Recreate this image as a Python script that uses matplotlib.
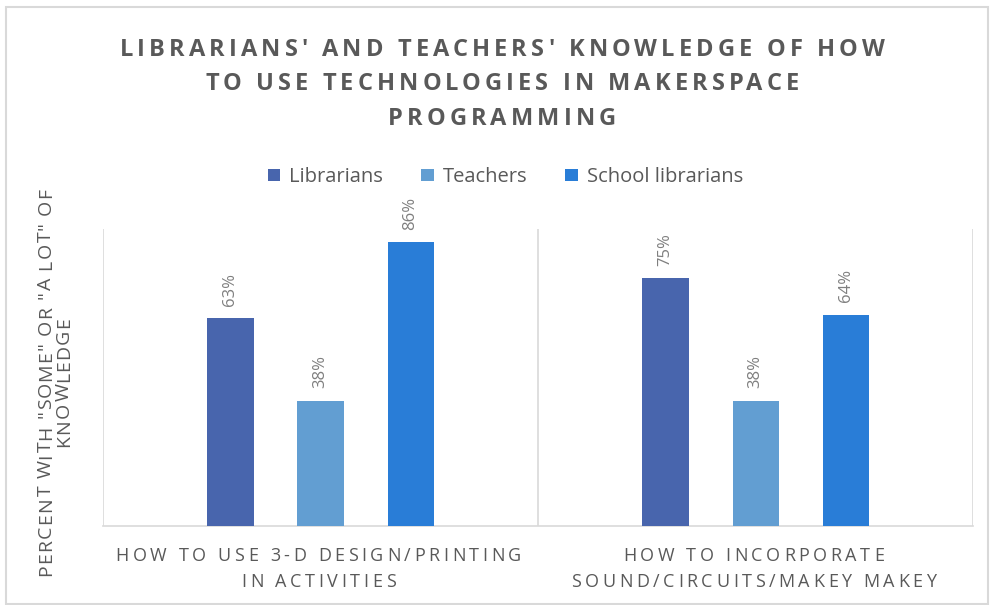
import matplotlib
matplotlib.use("Agg")
import matplotlib.pyplot as plt
import numpy as np
from matplotlib.patches import Rectangle
from matplotlib.font_manager import FontProperties

categories = ["HOW TO USE 3-D DESIGN/PRINTING\nIN ACTIVITIES",
              "HOW TO INCORPORATE\nSOUND/CIRCUITS/MAKEY MAKEY"]
series_names = ["Librarians", "Teachers", "School librarians"]
librarians = [0.63, 0.75]
teachers = [0.38, 0.38]
school_librarians = [0.86, 0.64]
colors = ["#4865AD", "#629ED2", "#297DD7"]

title = "LIBRARIANS' AND TEACHERS' KNOWLEDGE OF HOW\nTO USE TECHNOLOGIES IN MAKERSPACE\nPROGRAMMING"
ylabel = "PERCENT WITH \"SOME\" OR \"A LOT\" OF\nKNOWLEDGE"

FONT = "Open Sans"
GRAY = "#595959"
W_PX, H_PX = 990, 605

fig = plt.figure(figsize=(9.9, 6.05), dpi=100)
fig.patch.set_facecolor("white")
renderer = fig.canvas.get_renderer()
fig.add_artist(Rectangle((0.006, 0.002), 0.992, 0.986, transform=fig.transFigure,
                         fill=False, edgecolor="#D9D9D9", linewidth=1.5))


def tracked_line(s, cx, cy, size, tracking, weight="normal", color=GRAY, rotation=0):
    """Draw one line of letter-spaced text centred at (cx, cy) in pixels (cy = baseline)."""
    prop = FontProperties(family=FONT, size=size, weight=weight)

    def width(t):
        return renderer.get_text_width_height_descent(t, prop, ismath=False)[0]

    total = width(s) + tracking * (len(s) - 1)
    start = -total / 2
    for i, ch in enumerate(s):
        if ch == " ":
            continue
        off = start + width(s[:i + 1]) - width(ch) + i * tracking
        if rotation == 0:
            px, py = cx + off, cy
        else:
            px, py = cx, cy + off
        fig.text(px / W_PX, py / H_PX, ch, fontproperties=prop, color=color,
                 ha="left", va="baseline", rotation=rotation, rotation_mode="anchor")


def tracked_block(text, cx, first_baseline, step, size, tracking, weight="normal",
                  color=GRAY, rotation=0):
    for k, line in enumerate(text.split("\n")):
        if rotation == 0:
            tracked_line(line, cx, first_baseline - k * step, size, tracking, weight, color)
        else:
            tracked_line(line, first_baseline + k * step, cx, size, tracking, weight, color,
                         rotation=90)


ax = fig.add_axes([0.104, 0.1306, 0.879, 0.4909])
x = np.arange(len(categories))
width = 0.106
offset = 0.207
for i, (vals, name) in enumerate(zip([librarians, teachers, school_librarians], series_names)):
    pos = x + (i - 1) * offset
    ax.bar(pos, vals, width=width, color=colors[i], label=name, zorder=3)
    for px, v in zip(pos, vals):
        ax.annotate(f"{round(v * 100)}%", (px, v), xytext=(0, 9), textcoords="offset points",
                    rotation=90, ha="center", va="bottom", fontsize=12,
                    color="#7F7F7F", family=FONT)

ax.set_xlim(-0.5, len(categories) - 0.5)
ax.set_ylim(0, 0.9)
ax.set_yticks([])
ax.set_xticks([])
for s in ["top", "right", "left"]:
    ax.spines[s].set_visible(False)
ax.spines["bottom"].set_color("#D9D9D9")
ax.spines["bottom"].set_linewidth(1.2)
for b in [-0.5, 0.5, 1.5]:
    ax.axvline(b, color="#D9D9D9", linewidth=1.2, zorder=1)

# category labels, centred under each group
ax_left = 0.104 * W_PX
ax_w = 0.879 * W_PX
for xi, cat in zip(x, categories):
    cx = ax_left + (xi + 0.5) / len(categories) * ax_w - 2
    tracked_block(cat, cx, H_PX - 561, 26, 13, 3.6)

# axis title
tracked_block(ylabel, H_PX - 382, 51, 18, 14, 1.2, rotation=90)

# chart title
tracked_block(title, 502, H_PX - 56, 34.5, 17, 4.1, weight="bold")

leg = fig.legend(loc="center", bbox_to_anchor=(505.5 / W_PX, 1 - 177 / H_PX), ncol=3,
                 frameon=False, prop={"family": FONT, "size": 14.5}, handlelength=0.6,
                 handleheight=0.6, handletextpad=0.45, columnspacing=1.9, labelcolor=GRAY)

fig.savefig("out.png", dpi=100, facecolor="white")
